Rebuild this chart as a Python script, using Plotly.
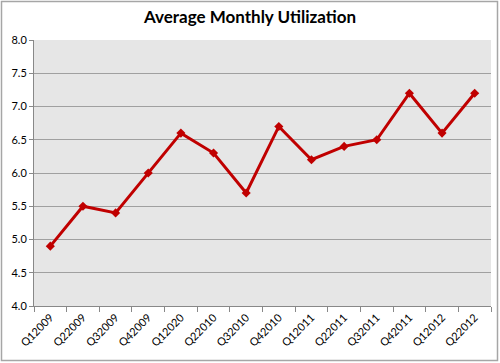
import plotly.graph_objects as go

quarters = ["Q12009", "Q22009", "Q32009", "Q42009", "Q12020", "Q22010", "Q32010",
            "Q42010", "Q12011", "Q22011", "Q32011", "Q42011", "Q12012", "Q22012"]
utilization = [4.9, 5.5, 5.4, 6.0, 6.6, 6.3, 5.7, 6.7, 6.2, 6.4, 6.5, 7.2, 6.6, 7.2]

W, H = 500, 363
ML, MR, MT, MB = 34, 9, 40, 57
pw, ph = W - ML - MR, H - MT - MB

fig = go.Figure()
fig.add_trace(go.Scatter(
    x=quarters, y=utilization, mode="lines+markers",
    line=dict(color="#C00000", width=3),
    marker=dict(symbol="diamond", size=7, color="#C00000"),
    cliponaxis=False,
))

font = "Lato, Liberation Sans, sans-serif"
fig.update_layout(
    width=W, height=H,
    margin=dict(l=ML, r=MR, t=MT, b=MB, autoexpand=False),
    paper_bgcolor="white", plot_bgcolor="#E6E6E6",
    showlegend=False,
    title=dict(text="<b>Average Monthly Utilization</b>", x=0.5, xanchor="center",
               y=1 - 17 / H, yanchor="middle",
               font=dict(family=font, size=17, color="black")),
    font=dict(family=font, color="black"),
    xaxis=dict(
        type="category", tickangle=-45, showgrid=False, automargin=False,
        ticks="outside", tickson="boundaries", ticklen=5, tickcolor="#888888",
        showline=True, linecolor="#888888", linewidth=1,
        tickfont=dict(size=11, family=font), range=[-0.5, 13.5],
    ),
    yaxis=dict(
        range=[4.0, 8.0], dtick=0.5, tickformat=".1f", automargin=False,
        showgrid=True, gridcolor="#A0A0A0", gridwidth=1,
        ticks="outside", ticklen=4, tickcolor="#888888",
        showline=True, linecolor="#888888", linewidth=1,
        tickfont=dict(size=11, family=font), zeroline=False,
    ),
    shapes=[dict(
        type="rect", xref="paper", yref="paper",
        x0=-(ML - 1.5) / pw, x1=(pw + MR - 2.5) / pw,
        y0=-(MB - 2.5) / ph, y1=(ph + MT - 1.5) / ph,
        line=dict(color="#A6A6A6", width=1.5), fillcolor="rgba(0,0,0,0)",
    )],
)
fig.write_html("out.html", config={"displayModeBar": False},
               post_script="document.body.style.margin='0';document.body.style.overflow='hidden';")
